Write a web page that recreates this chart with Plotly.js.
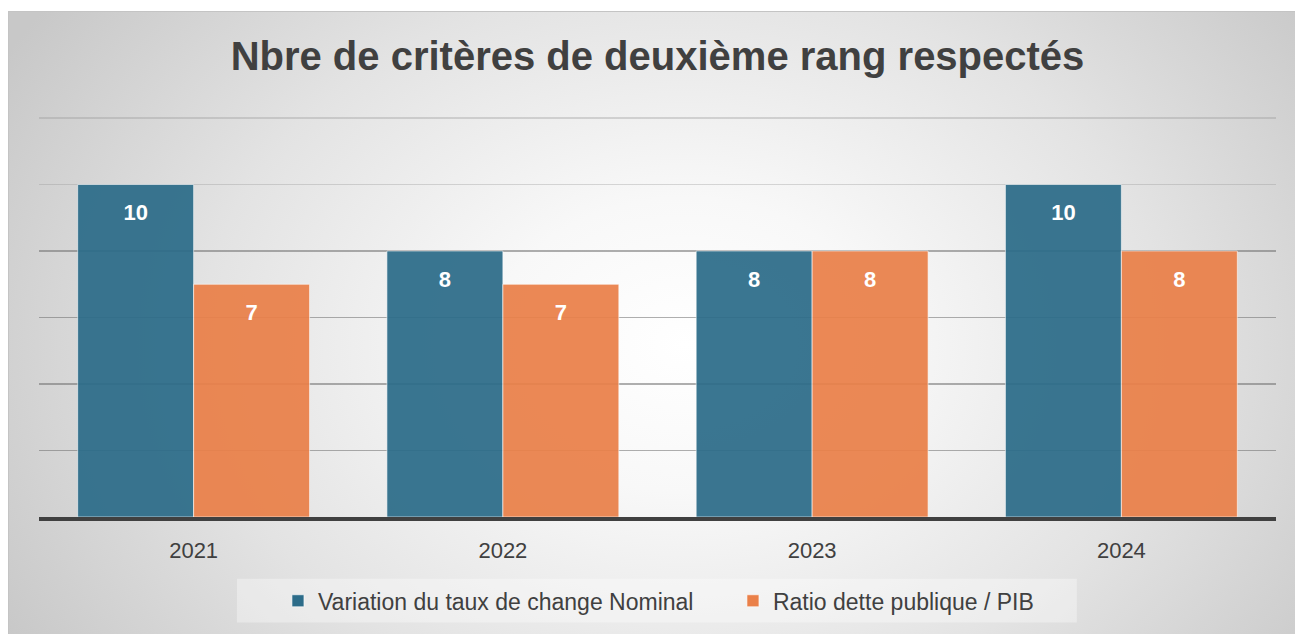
<!DOCTYPE html>
<html>
<head>
<meta charset="utf-8">
<script src="https://cdn.plot.ly/plotly-3.0.1.min.js"></script>
<style>
  html, body { margin: 0; padding: 0; background: #ffffff; overflow: hidden; }
  #bg {
    position: absolute; left: 8px; top: 11px; width: 1300px; height: 640px;
    border-top: 1px solid #c4c4c4; border-left: 1px solid #c4c4c4;
    background: radial-gradient(ellipse 60% 92% at 52% 52%, #ffffff 0%, #f8f8f8 25%, #e3e3e3 62%, #c8c8c8 100%);
  }
  #chart { position: absolute; left: 0; top: 0; width: 1295px; height: 634px; }
</style>
</head>
<body>
<div id="bg"></div>
<div id="chart"></div>
<script>
const categories = ['2021', '2022', '2023', '2024'];
const seriesNames = ['Variation du taux de change Nominal', 'Ratio dette publique / PIB'];
const tauxChangeNominal = [10, 8, 8, 10];
const detteSurPib = [7, 7, 8, 8];
const chartTitle = 'Nbre de critères de deuxième rang respectés';

const FONT = 'Liberation Sans, Arial, sans-serif';
const labelTemplate = '<span style="font-size:4px"> </span><br>%{y}';

function barTrace(name, values, color) {
  return {
    type: 'bar', name: name, x: categories, y: values,
    marker: { color: color, opacity: 0.93, line: { color: 'rgba(255,255,255,0.6)', width: 1 } },
    texttemplate: labelTemplate, textposition: 'inside', insidetextanchor: 'end',
    textangle: 0, constraintext: 'none',
    insidetextfont: { family: FONT, size: 22, color: '#ffffff', weight: 'bold' },
    hoverinfo: 'skip'
  };
}

const data = [
  barTrace(seriesNames[0], tauxChangeNominal, '#2c6c89'),
  barTrace(seriesNames[1], detteSurPib, '#ea8049')
];

const layout = {
  width: 1295, height: 634, autosize: false,
  paper_bgcolor: 'rgba(0,0,0,0)', plot_bgcolor: 'rgba(0,0,0,0)',
  margin: { l: 39, r: 19, t: 115, b: 115, pad: 0 },
  font: { family: FONT, color: '#404040' },
  title: {
    text: chartTitle, x: 0.5, xref: 'paper', xanchor: 'center',
    y: 0.911, yref: 'container', yanchor: 'middle',
    font: { family: FONT, size: 40, color: '#404040', weight: 'bold' }
  },
  barmode: 'group', bargap: 0.25, bargroupgap: 0,
  xaxis: {
    type: 'category', showgrid: false, zeroline: false,
    showline: true, linecolor: '#404040', linewidth: 3.5,
    ticks: '', ticklabelstandoff: 11,
    tickfont: { family: FONT, size: 22, color: '#404040' }
  },
  yaxis: {
    range: [0, 12.09], showticklabels: false, ticks: '', zeroline: false,
    tickmode: 'array', tickvals: [2, 4, 6, 8],
    showgrid: true, gridcolor: 'rgba(110,110,110,0.55)', gridwidth: 1.3,
    minor: { tickmode: 'array', tickvals: [10, 12], showgrid: true, gridcolor: 'rgba(150,150,150,0.35)', gridwidth: 1.3, ticks: '' }
  },
  legend: {
    orientation: 'h', x: 0.561, xanchor: 'center', y: -0.2085, yanchor: 'middle',
    bgcolor: 'rgba(0,0,0,0)', entrywidth: 410,
    font: { family: FONT, size: 23, color: '#404040' },
    itemclick: false, itemdoubleclick: false
  },
  shapes: [{
    type: 'rect', xref: 'paper', yref: 'paper', layer: 'below',
    x0: 0.16, x1: 0.839, y0: -0.1535, y1: -0.2624,
    fillcolor: 'rgba(255,255,255,0.35)', line: { width: 0 }
  }]
};

Plotly.newPlot('chart', data, layout, { staticPlot: true, displayModeBar: false });
</script>
</body>
</html>
